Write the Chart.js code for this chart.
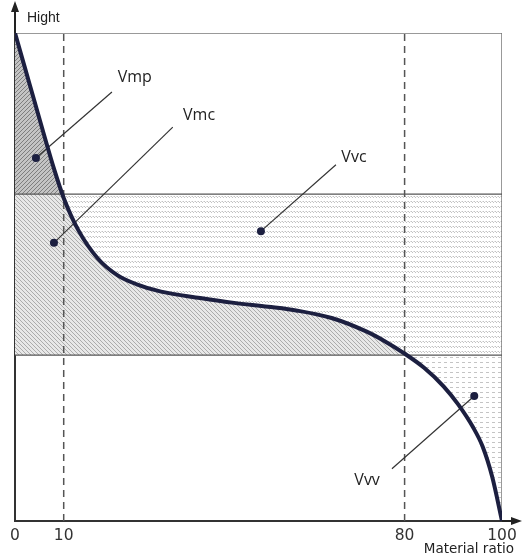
<!DOCTYPE html>
<html lang="en">
<head>
<meta charset="utf-8" />
<title>Material ratio curve</title>
<script src="https://cdn.jsdelivr.net/npm/chart.js"></script>
<style>
  html, body { margin: 0; padding: 0; background: #fff; }
  .chartBox { width: 523px; height: 560px; }
</style>
</head>
<body>
<div class="chartBox"><canvas id="myChart"></canvas></div>
<script>
// bearing (Abbott) curve: material ratio % -> height
const ratio = [0, 2, 4, 6, 8, 10, 13, 17, 21, 25, 30, 38, 45, 52, 58, 65, 72, 76, 80, 84, 88, 91, 94, 96, 98, 100];
const height = [100, 93, 86, 79, 72.2, 66.2, 59.6, 53.8, 50.4, 48.5, 47, 45.7, 44.7, 43.9, 43.1, 41.6, 38.9, 36.8, 34.3, 31.4, 27.6, 23.9, 19.3, 15.3, 9, 0];

// core band limits and the two marked ratios
const bandTop = 67;
const bandBottom = 34;
const markRatios = [10, 80];
const tickLabels = [0, 10, 80, 100];

// volume labels (ratio, height)
const volNames = ['Vmp', 'Vmc', 'Vvc', 'Vvv'];
const volDots = [[4.3, 74.4], [8, 57], [50.5, 59.4], [94.3, 25.6]];
const volEnds = [[19.9, 87.9], [32.4, 80.7], [65.9, 73], [77.4, 10.7]];
const volText = [[24.6, 90.8], [37.8, 83.2], [69.6, 74.6], [72.3, 8.4]];

// hatch patterns
function makePattern(w, h, bg, draw) {
  const c = document.createElement('canvas');
  c.width = w; c.height = h;
  const g = c.getContext('2d');
  g.fillStyle = bg;
  g.fillRect(0, 0, w, h);
  draw(g);
  return g.createPattern(c, 'repeat');
}
const pMp = makePattern(4, 4, '#c4c4c4', g => {
  g.strokeStyle = '#7e7e7e'; g.lineWidth = 1;
  g.beginPath();
  g.moveTo(0, 4); g.lineTo(4, 0);
  g.moveTo(-1, 1); g.lineTo(1, -1);
  g.moveTo(3, 5); g.lineTo(5, 3);
  g.stroke();
});
const pMc = makePattern(4, 4, '#e8e8e8', g => {
  g.strokeStyle = '#acacac'; g.lineWidth = 1;
  g.beginPath();
  g.moveTo(0, 0); g.lineTo(4, 4);
  g.moveTo(-1, 3); g.lineTo(1, 5);
  g.moveTo(3, -1); g.lineTo(5, 1);
  g.stroke();
});
const pVc = makePattern(3, 5, '#ffffff', g => {
  g.fillStyle = '#c2c2c2';
  g.fillRect(0, 1, 1, 1);
  g.fillRect(1, 2, 1, 1);
  g.fillStyle = '#e2e2e2';
  g.fillRect(2, 1, 1, 1);
});
const pVv = makePattern(6, 5, '#ffffff', g => {
  g.fillStyle = '#c4c4c4';
  g.fillRect(0, 2, 3, 1);
});
const clear = 'rgba(0,0,0,0)';

const curve = ratio.map((r, i) => ({ x: r, y: height[i] }));
const fillBase = { data: curve, borderWidth: 0, pointRadius: 0, cubicInterpolationMode: 'monotone' };

const guide = (pts, color, width, dash) => ({
  data: pts, borderColor: color, borderWidth: width, borderDash: dash || [],
  pointRadius: 0, fill: false, order: 2
});

const datasets = [
  { ...fillBase, label: 'curve', borderColor: '#1c1f40', borderWidth: 4, fill: false, order: 0 },
  { ...fillBase, label: 'Vmp', fill: { target: { value: bandTop }, above: pMp, below: clear }, order: 3 },
  { ...fillBase, label: 'Vmc', fill: { target: { value: bandBottom }, above: pMc, below: pVv }, order: 4 },
  { ...fillBase, label: 'Vvc', fill: { target: { value: bandTop }, above: clear, below: pVc }, order: 5 },
  guide([{ x: 0, y: bandTop }, { x: 100, y: bandTop }], '#555', 1.2),
  guide([{ x: 0, y: bandBottom }, { x: 100, y: bandBottom }], '#555', 1.2),
  guide([{ x: 0, y: 100 }, { x: 100, y: 100 }], '#777', 1.5),
  guide([{ x: 100, y: 0 }, { x: 100, y: 100 }], '#777', 1.5),
];
markRatios.forEach(r => {
  datasets.push(guide([{ x: r, y: 0 }, { x: r, y: 100 }], '#555', 1.5, [7, 5]));
});
volNames.forEach((n, i) => {
  datasets.push({
    label: n,
    data: [{ x: volDots[i][0], y: volDots[i][1] }, { x: volEnds[i][0], y: volEnds[i][1] }],
    borderColor: '#333', borderWidth: 1.2,
    pointRadius: [4, 0], pointBackgroundColor: '#1c1f40', pointBorderWidth: 0,
    fill: false, order: 1
  });
});

const labelsPlugin = {
  id: 'labelsPlugin',
  afterDraw(chart) {
    const { ctx, chartArea: { left, right, top, bottom }, scales: { x, y } } = chart;
    ctx.save();
    ctx.fillStyle = '#222';
    ctx.strokeStyle = '#222';
    ctx.lineWidth = 2;
    // axis arrows
    ctx.beginPath();
    ctx.moveTo(left, top); ctx.lineTo(left, 10);
    ctx.moveTo(right, bottom); ctx.lineTo(513, bottom);
    ctx.stroke();
    ctx.beginPath();
    ctx.moveTo(left, 1); ctx.lineTo(left - 4, 12); ctx.lineTo(left + 4, 12); ctx.closePath();
    ctx.moveTo(522, bottom); ctx.lineTo(511, bottom - 4); ctx.lineTo(511, bottom + 4); ctx.closePath();
    ctx.fill();

    ctx.font = '14px "Liberation Sans"';
    ctx.textBaseline = 'middle';
    ctx.textAlign = 'left';
    ctx.fillText('Hight', left + 12, 18);
    ctx.font = '13.5px "DejaVu Sans"';
    ctx.textAlign = 'right';
    ctx.textBaseline = 'alphabetic';
    ctx.fillText('Material ratio', 514, 553);

    ctx.font = '16px "Open Sans"';
    ctx.textAlign = 'center';
    ctx.textBaseline = 'middle';
    volNames.forEach((n, i) => {
      ctx.fillText(n, x.getPixelForValue(volText[i][0]), y.getPixelForValue(volText[i][1]));
    });
    ctx.restore();
  }
};

const config = {
  type: 'line',
  data: { datasets },
  options: {
    responsive: true,
    maintainAspectRatio: false,
    animation: false,
    layout: { padding: { top: 33, right: 21, left: 0, bottom: 0 } },
    plugins: { legend: { display: false }, tooltip: { enabled: false } },
    scales: {
      x: {
        type: 'linear', min: 0, max: 100,
        grid: { display: false, drawTicks: false },
        border: { display: true, color: '#333', width: 2 },
        ticks: { color: '#333', padding: 6, font: { family: 'DejaVu Sans', size: 15.5 } },
        afterBuildTicks: axis => { axis.ticks = tickLabels.map(v => ({ value: v })); },
        afterFit: s => { s.height = 39; }
      },
      y: {
        min: 0, max: 100,
        grid: { display: false, drawTicks: false },
        border: { display: true, color: '#333', width: 2 },
        ticks: { display: false },
        afterFit: s => { s.width = 15; }
      }
    }
  },
  plugins: [labelsPlugin]
};

const myChart = new Chart(document.getElementById('myChart'), config);
</script>
</body>
</html>
